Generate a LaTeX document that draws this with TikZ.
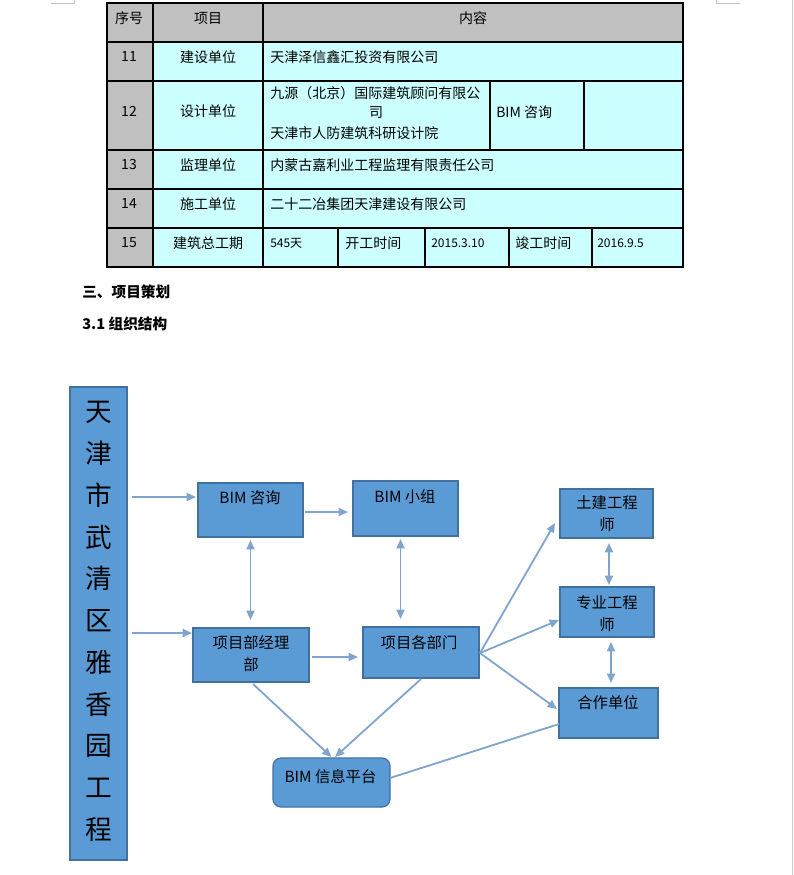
\documentclass[tikz,border=0pt]{standalone}
\usepackage{fontspec}
\setmainfont{Noto Sans CJK SC}
\usetikzlibrary{arrows.meta,calc}
\definecolor{boxfill}{HTML}{5B9BD5}
\definecolor{boxline}{HTML}{41719C}
\definecolor{arrowc}{HTML}{7FA5CF}
\definecolor{tgray}{HTML}{C0C0C0}
\definecolor{tcyan}{HTML}{CCFFFF}
\tikzset{
  bx/.style={draw=boxline, fill=boxfill, line width=0.9pt, inner sep=0pt, outer sep=0pt, anchor=north west},
  bt/.style={align=center, font=\fontsize{11.5}{16.5}\selectfont, inner sep=0pt},
  arr/.style={draw=arrowc, line width=1.35pt, -{Triangle[length=7pt,width=6pt]}},
  darr/.style={draw=arrowc, line width=1.35pt, {Triangle[length=7pt,width=6pt]}-{Triangle[length=7pt,width=6pt]}},
  plainln/.style={draw=arrowc, line width=1.35pt},
  tt/.style={font=\fontsize{10.5}{13}\selectfont, inner sep=0pt},
  tl/.style={tt, anchor=west},
  ts/.style={font=\fontsize{9}{11}\selectfont, inner sep=0pt, anchor=west},
  hd/.style={font=\bfseries\fontsize{11}{13}\selectfont, inner sep=0pt, anchor=west},
  gridln/.style={line width=0.8pt, draw=black}
}
\begin{document}
\begin{tikzpicture}[x=0.75pt,y=-0.75pt]
\useasboundingbox (0,0) rectangle (793,875);
\fill[white] (0,0) rectangle (793,875);
% page marks
\draw[tgray, line width=0.6pt] (51,3) -- (74,3) -- (74,0);
\draw[tgray, line width=0.6pt] (716,0) -- (716,3) -- (740,3);
\draw[black!20, line width=0.6pt] (792,0) -- (792,875);
% table fills
\fill[tcyan] (107,42) rectangle (683,267);
\fill[tgray] (107,3) rectangle (683,42);
\fill[tgray] (107,42) rectangle (153,267);
% table lines
\draw[gridln] (107,3) rectangle (683,267);
\foreach \yy in {42,81,150,189,228} \draw[gridln] (107,\yy) -- (683,\yy);
\draw[gridln] (153,3) -- (153,267);
\draw[gridln] (263,3) -- (263,267);
\draw[gridln] (490,81) -- (490,150);
\draw[gridln] (584,81) -- (584,150);
\foreach \xx in {338,425,509,592} \draw[gridln] (\xx,228) -- (\xx,267);
% table texts
\node[tt] (h1) at (129,18) {序号};
\node[tt] (h2) at (208,18) {项目};
\node[tt] (h3) at (473,18) {内容};
\node[tt] (n11) at (129,57) {11};
\node[tt] (i11) at (208,57) {建设单位};
\node[tl] (c11) at (270,57) {天津泽信鑫汇投资有限公司};
\node[tt] (n12) at (129,111) {12};
\node[tt] (i12) at (208,111) {设计单位};
\node[tl] (c12a) at (270,93) {九源（北京）国际建筑顾问有限公};
\node[tt] (c12b) at (376,113) {司};
\node[tl] (c12c) at (270,133) {天津市人防建筑科研设计院};
\node[tl] (c12d) at (496,112) {BIM 咨询};
\node[tt] (n13) at (129,165) {13};
\node[tt] (i13) at (208,165) {监理单位};
\node[tl] (c13) at (270,165) {内蒙古嘉利业工程监理有限责任公司};
\node[tt] (n14) at (129,204) {14};
\node[tt] (i14) at (208,204) {施工单位};
\node[tl] (c14) at (270,204) {二十二冶集团天津建设有限公司};
\node[tt] (n15) at (129,243) {15};
\node[tt] (i15) at (208,243) {建筑总工期};
\node[ts] (c15a) at (270,243) {545天};
\node[tl] (c15b) at (345,243) {开工时间};
\node[ts] (c15c) at (431,243) {2015.3.10};
\node[tl] (c15d) at (515,243) {竣工时间};
\node[ts] (c15e) at (597,243) {2016.9.5};
% headings
\node[hd] (sec3) at (82,292) {三、项目策划};
\node[hd] (sec31) at (82,324) {3.1 组织结构};
% diagram boxes
\node[bx, minimum width=42.75pt, minimum height=354.75pt] (L) at (70,387) {};
\node[inner sep=0pt, align=center, font=\fontsize{20}{31.3}\selectfont] (Lt) at (98.5,621.5)
  {天\\津\\市\\武\\清\\区\\雅\\香\\园\\工\\程};
\node[bx, minimum width=78.75pt, minimum height=40.5pt] (bimzx) at (198,483) {};
\node[bt] (bimzxt) at (250,498) {BIM 咨询};
\node[bx, minimum width=78.75pt, minimum height=41.25pt] (bimxz) at (353,481) {};
\node[bt] (bimxzt) at (405,497) {BIM 小组};
\node[bx, minimum width=87pt, minimum height=40.5pt] (xmjl) at (193,628) {};
\node[bt] (xmjlt) at (251,654) {项目部经理\\部};
\node[bx, minimum width=87pt, minimum height=38.25pt] (xmgb) at (363,627) {};
\node[bt] (xmgbt) at (419,643) {项目各部门};
\node[bx, rounded corners=6pt, minimum width=87.75pt, minimum height=36.75pt] (bimpt) at (273,758) {};
\node[bt] (bimptt) at (330.5,777) {BIM 信息平台};
\node[bx, minimum width=69.75pt, minimum height=36.75pt] (tj) at (560,489) {};
\node[bt] (tjt) at (607,514) {土建工程\\师};
\node[bx, minimum width=70.5pt, minimum height=37.5pt] (zy) at (560,587) {};
\node[bt] (zyt) at (607,613.5) {专业工程\\师};
\node[bx, minimum width=74.25pt, minimum height=37.5pt] (hz) at (559,688) {};
\node[bt] (hzt) at (608,703) {合作单位};
% connectors
\draw[arr] ($(L.north east)+(5,110)$) -- ($(bimzx.north west)+(-2,14)$);
\draw[arr] ($(bimzx.north east)+(2,29)$) -- ($(bimxz.north west)+(-5,31)$);
\draw[arr] ($(L.north east)+(5,246)$) -- ($(xmjl.north west)+(-1,5)$);
\draw[arr] ($(xmjl.north east)+(3,29)$) -- ($(xmgb.north west)+(-5,30)$);
\draw[darr] ($(bimzx.south)+(0,3)$) -- ($(bimzx.south |- xmjl.north)+(0,-8)$);
\draw[darr] ($(bimxz.south)+(-5,3)$) -- ($(bimxz.south |- xmgb.north)+(-5,-8)$);
\draw[arr] ($(xmjl.south)+(2,2)$) -- ($(bimpt.north)+(0,-1)$);
\draw[arr] ($(xmgb.south)+(0,1)$) -- ($(bimpt.north)+(3.5,-1)$);
\draw[plainln] ($(bimpt.east)+(0,-4.5)$) -- ($(hz.west)+(0,11)$);
\draw[arr] ($(xmgb.east)+(1,0.5)$) -- ($(tj.west)+(-5,9.5)$);
\draw[arr] ($(xmgb.east)+(1,0.5)$) -- ($(zy.west)+(-1,8)$);
\draw[arr] ($(xmgb.east)+(1,0.5)$) -- ($(hz.west)+(-2,-4)$);
\draw[darr] ($(tj.south)+(2.5,5)$) -- ($(zy.north)+(2,-2)$);
\draw[darr] ($(zy.south)+(4,5)$) -- ($(hz.north)+(2.5,-5)$);
\end{tikzpicture}
\end{document}
